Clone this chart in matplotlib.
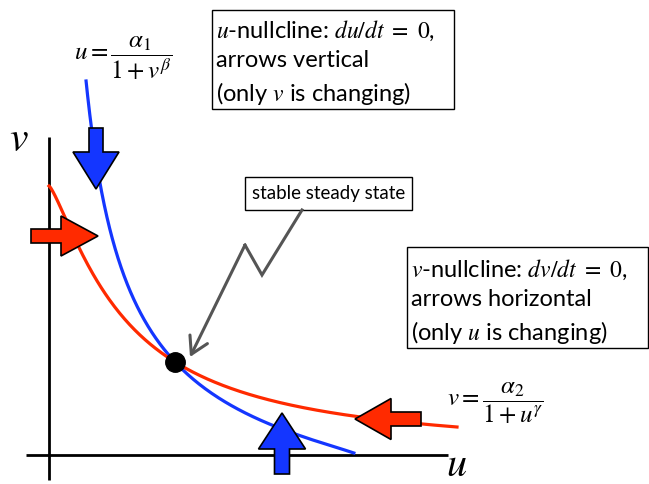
import matplotlib.pyplot as plt
import numpy as np
from matplotlib.patches import FancyArrow, Rectangle

plt.rcParams['mathtext.fontset'] = 'stix'

# Nullcline parameters (Hill functions of the toggle switch)
alpha1, K1, beta = 3.1, 0.672, 1.163     # u = alpha1 / (1 + (v/K1)^beta)
alpha2, K2, gamma = 2.69, 0.769, 1.29    # v = alpha2 / (1 + (u/K2)^gamma)
v_range = [0.02, 3.74]                   # drawn extent of the u-nullcline
u_range = [0.0, 4.08]                    # drawn extent of the v-nullcline

blue = '#1436ff'
red = '#ff2a00'


def u_null(v):
    return alpha1 / (1 + (v / K1) ** beta)


def v_null(u):
    return alpha2 / (1 + (u / K2) ** gamma)


fig = plt.figure(figsize=(6.49, 4.84), dpi=100)
ax = fig.add_axes([0, 0, 1, 1])
ax.set_xlim(-0.49, 6.00)
ax.set_ylim(-0.29, 4.55)
ax.axis('off')

# axes of the phase plane
ax.plot([0, 0], [-0.25, 3.18], color='black', lw=2, solid_capstyle='butt')
ax.plot([-0.23, 3.99], [0, 0], color='black', lw=2, solid_capstyle='butt')
ax.text(-0.305, 3.16, '$v$', fontsize=30, ha='center', va='center')
ax.text(4.08, -0.215, '$u$', fontsize=29, ha='center', va='baseline')

# nullclines
vv = np.linspace(v_range[0], v_range[1], 400)
ax.plot(u_null(vv), vv, color=blue, lw=2.3)
uu = np.linspace(u_range[0], u_range[1], 400)
ax.plot(uu, v_null(uu), color=red, lw=2.3)

# steady state where the two nullclines cross
grid = np.linspace(0.5, 2.5, 20001)
i = np.argmin(np.abs(grid - u_null(v_null(grid))))
u_ss, v_ss = grid[i], v_null(grid[i])
ax.plot(u_ss, v_ss, 'o', color='black', ms=14, zorder=5)

# block arrows showing the direction of flow on each nullcline
arrow_kw = dict(length_includes_head=True, ec='black', lw=1.2, zorder=4)
ax.add_patch(FancyArrow(0.47, 3.27, 0, -0.61, width=0.14, head_width=0.46,
                        head_length=0.37, fc=blue, **arrow_kw))
ax.add_patch(FancyArrow(2.33, -0.19, 0, 0.61, width=0.15, head_width=0.47,
                        head_length=0.36, fc=blue, **arrow_kw))
ax.add_patch(FancyArrow(-0.18, 2.19, 0.67, 0, width=0.14, head_width=0.40,
                        head_length=0.37, fc=red, **arrow_kw))
ax.add_patch(FancyArrow(3.72, 0.36, -0.66, 0, width=0.14, head_width=0.41,
                        head_length=0.36, fc=red, **arrow_kw))

# nullcline formulas
ax.text(0.745, 3.97, r'$u = \dfrac{\alpha_1}{1+v^{\beta}}$', fontsize=18,
        ha='center', va='center')
ax.text(4.46, 0.52, r'$v = \dfrac{\alpha_2}{1+u^{\gamma}}$', fontsize=18,
        ha='center', va='center')

# explanatory boxes
ax.add_patch(Rectangle((1.63, 3.46), 2.42, 0.99, fill=False, ec='black', lw=1))
ax.text(1.67, 4.36,
        '$u$-nullcline: $du/dt\\ =\\ \\mathit{0}$,\narrows vertical\n(only $v$ is changing)',
        family='Lato', fontsize=17, ha='left', va='top', linespacing=1.42)

ax.add_patch(Rectangle((3.58, 1.07), 2.41, 1.01, fill=False, ec='black', lw=1))
ax.text(3.62, 1.97,
        '$v$-nullcline: $dv/dt\\ =\\ \\mathit{0}$,\narrows horizontal\n(only $u$ is changing)',
        family='Lato', fontsize=17, ha='left', va='top', linespacing=1.42)

ax.add_patch(Rectangle((1.96, 2.45), 1.67, 0.33, fill=False, ec='black', lw=1))
ax.text(2.795, 2.615, 'stable steady state', family='Lato', fontsize=13.5,
        ha='center', va='center')

# zigzag pointer to the steady state
ax.plot([2.53, 2.13, 1.96], [2.45, 1.80, 2.10], color='#555555', lw=2.2,
        solid_joinstyle='miter')
ax.annotate('', xy=(1.41, 0.98), xytext=(1.96, 2.10),
            arrowprops=dict(arrowstyle='->,head_length=0.6,head_width=0.35',
                            color='#555555', lw=2.2, shrinkA=0, shrinkB=0,
                            mutation_scale=20))

fig.savefig('out.png', dpi=100)
